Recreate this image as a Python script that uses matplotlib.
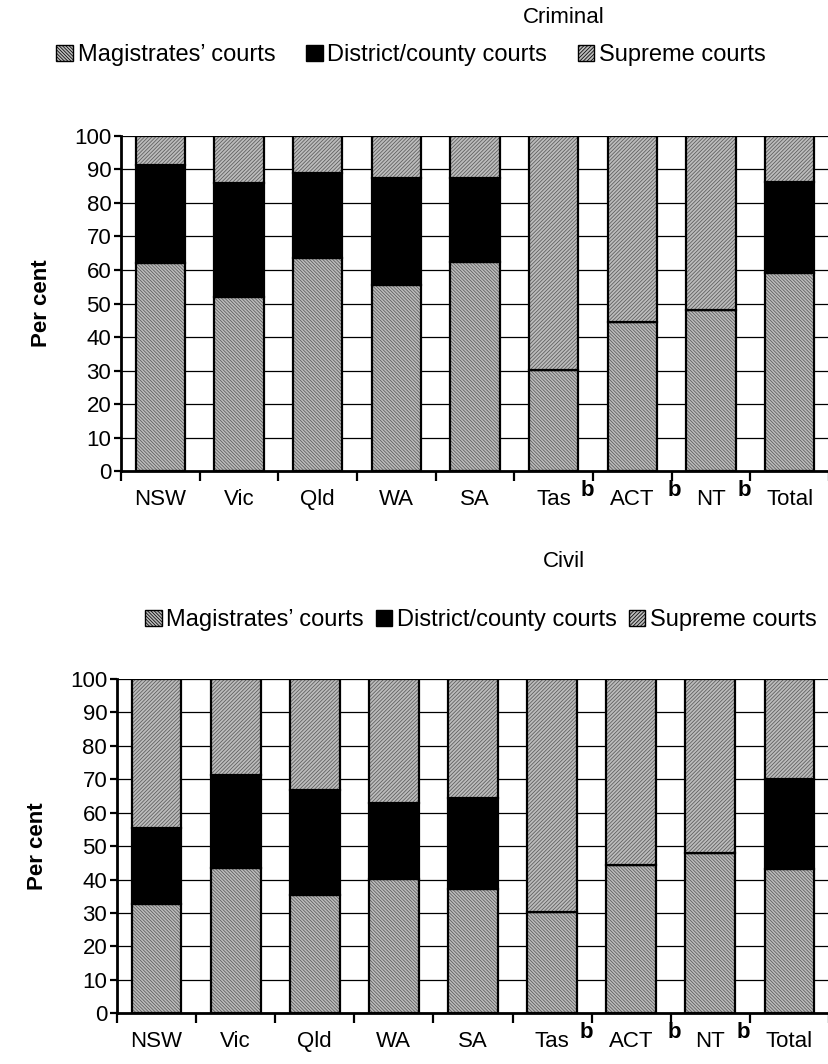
import numpy as np
import matplotlib
matplotlib.use("Agg")
import matplotlib.pyplot as plt
from matplotlib.patches import Patch

plt.rcParams['font.family'] = ['Liberation Sans', 'DejaVu Sans']
plt.rcParams['hatch.linewidth'] = 0.55

jurisdictions = ['NSW', 'Vic', 'Qld', 'WA', 'SA', 'Tas', 'ACT', 'NT', 'Total']
footnoted = ['Tas', 'ACT', 'NT']
court_levels = ['Magistrates\u2019 courts', 'District/county courts', 'Supreme courts']

# per cent of expenditure by court level
criminal_magistrates = [62, 52, 63.7, 55.5, 62.3, 30.2, 44.4, 48, 59.2]
criminal_district = [29.2, 34.1, 25.2, 32, 25.3, 0, 0, 0, 27.2]
criminal_supreme = [8.8, 13.9, 11.1, 12.5, 12.4, 69.8, 55.6, 52, 13.6]

civil_magistrates = [32.7, 43.6, 35.5, 40.2, 37.1, 30.2, 44.4, 48, 43.2]
civil_district = [22.6, 27.8, 31.2, 22.6, 27.3, 0, 0, 0, 26.8]
civil_supreme = [44.7, 28.6, 33.3, 37.2, 35.6, 69.8, 55.6, 52, 30]

yticks = list(range(0, 101, 10))
# footnote letters trail their labels, tucked under the boundary ticks
b_offsets = {'Tas': 0.43, 'ACT': 0.54, 'NT': 0.42}

mag_style = dict(facecolor='#bcbcbc', hatch='\\' * 10, edgecolor='black')
dist_style = dict(facecolor='black', edgecolor='black')
sup_style = dict(facecolor='#bcbcbc', hatch='/' * 9, edgecolor='black')
hatch_grey = matplotlib.colors.to_rgba('#5a5a5a')
FS = 16


def draw_panel(ax, mag, dist, sup):
    x = np.arange(len(jurisdictions))
    mag = np.array(mag)
    dist = np.array(dist)
    sup = np.array(sup)
    w = 0.63
    ax.set_axisbelow(True)
    ax.yaxis.grid(True, color='black', linewidth=0.9)
    for fill, bottom, style in [(mag, 0, mag_style), (dist, mag, dist_style), (sup, mag + dist, sup_style)]:
        bars = ax.bar(x, fill, w, bottom=bottom, linewidth=1.6, **style)
        for b in bars:
            b._hatch_color = hatch_grey
    ax.set_ylim(0, 100)
    ax.set_xlim(-0.5, len(jurisdictions) - 0.5)
    ax.set_yticks(yticks)
    ax.set_yticklabels([str(t) for t in yticks], fontsize=FS)
    ax.set_xticks(np.arange(len(jurisdictions) + 1) - 0.5)
    ax.set_xticklabels([])
    ax.set_xticks(x, minor=True)
    ax.set_xticklabels(jurisdictions, minor=True, fontsize=FS)
    ax.tick_params(axis='x', which='minor', length=0, pad=13)
    ax.tick_params(axis='x', which='major', length=7, width=1.6, direction='out')
    ax.tick_params(axis='y', length=5, width=1.6, direction='out', pad=2)
    for s in ['top', 'right']:
        ax.spines[s].set_visible(False)
    for s in ['left', 'bottom']:
        ax.spines[s].set_linewidth(2)
    ax.set_ylabel('Per cent', fontsize=FS, fontweight='bold', labelpad=16)
    for name in footnoted:
        i = jurisdictions.index(name)
        ax.annotate('b', xy=(i + b_offsets[name], 0), xycoords=('data', 'axes fraction'),
                    xytext=(0, -14), textcoords='offset points', ha='center', va='center',
                    fontsize=FS, fontweight='bold')


def add_legend(fig, x, y, spacing):
    handles = [Patch(**mag_style), Patch(**dist_style), Patch(**sup_style)]
    fig.legend(handles, court_levels, loc='center', bbox_to_anchor=(x, y), ncol=3,
               frameon=False, fontsize=17, handlelength=0.7, handleheight=0.7,
               handletextpad=0.2, columnspacing=spacing)


fig = plt.figure(figsize=(8.29, 10.64), dpi=100)

ax1 = fig.add_axes([0.146, 0.5573, 0.854, 0.3149])
draw_panel(ax1, criminal_magistrates, criminal_district, criminal_supreme)
fig.text(0.68, 0.984, 'Criminal', ha='center', va='center', fontsize=FS)
add_legend(fig, 0.496, 0.948, 1.3)

ax2 = fig.add_axes([0.1411, 0.0477, 0.8589, 0.3141])
draw_panel(ax2, civil_magistrates, civil_district, civil_supreme)
fig.text(0.68, 0.472, 'Civil', ha='center', va='center', fontsize=FS)
add_legend(fig, 0.58, 0.417, 0.5)

fig.savefig('out.png', dpi=100)
